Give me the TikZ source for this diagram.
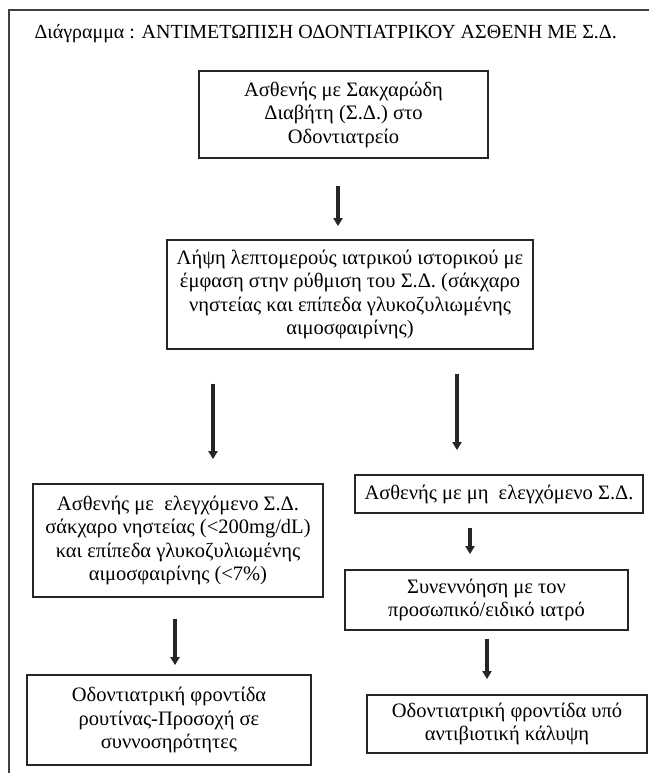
\documentclass[tikz,border=0pt]{standalone}
\usepackage{fontspec}
\setmainfont{Liberation Serif}
\usetikzlibrary{arrows.meta}

\tikzset{
  stepbox/.style={draw=black!85, line width=1.8pt, align=center, inner sep=0pt,
    font=\fontsize{20.5}{23.5}\selectfont},
  flowarrow/.style={draw=black!85, line width=3.2pt, -{Triangle[width=9pt,length=8pt]}},
}

\begin{document}
\begin{tikzpicture}[x=1pt, y=-1pt]
	\useasboundingbox (0,0) rectangle (649,773);
	% frame and title
	\draw[line width=1.8pt, black!75] (649,10) -- (9,10) -- (9,773);
	\node[anchor=west, font=\fontsize{20}{23}\selectfont] (title) at (31,34) {Διάγραμμα : ΑΝΤΙΜΕΤΩΠΙΣΗ ΟΔΟΝΤΙΑΤΡΙΚΟΥ ΑΣΘΕΝΗ ΜΕ Σ.Δ.};
	% boxes
	\node[stepbox, minimum width=289pt, minimum height=87pt] (patient) at (343.5,114.5) {Ασθενής με Σακχαρώδη\\Διαβήτη (Σ.Δ.) στο\\Οδοντιατρείο};
	\node[stepbox, minimum width=366pt, minimum height=109pt] (history) at (350,294.5) {Λήψη λεπτομερούς ιατρικού ιστορικού με\\έμφαση στην ρύθμιση του Σ.Δ. (σάκχαρο\\νηστείας και επίπεδα γλυκοζυλιωμένης\\αιμοσφαιρίνης)};
	\node[stepbox, minimum width=290pt, minimum height=113pt] (controlled) at (178,540.5) {Ασθενής με \ ελεγχόμενο Σ.Δ.\\σάκχαρο νηστείας (<200mg/dL)\\και επίπεδα γλυκοζυλιωμένης\\αιμοσφαιρίνης (<7\%)};
	\node[stepbox, minimum width=284pt, minimum height=90pt] (routine) at (169,720) {Οδοντιατρική φροντίδα\\ρουτίνας-Προσοχή σε\\συννοσηρότητες};
	\node[stepbox, minimum width=288pt, minimum height=38pt] (uncontrolled) at (499,494) {Ασθενής με μη \ ελεγχόμενο Σ.Δ.};
	\node[stepbox, minimum width=283pt, minimum height=60pt] (consult) at (486.5,600) {Συνεννόηση με τον\\προσωπικό/ειδικό ιατρό};
	\node[stepbox, minimum width=280pt, minimum height=58pt] (antibiotic) at (507,724) {Οδοντιατρική φροντίδα υπό\\αντιβιοτική κάλυψη};
	% arrows
	\draw[flowarrow, shorten <=27pt, shorten >=13pt] ([xshift=-5.5pt]patient.south) -- ([xshift=-5.5pt]patient.south |- history.north);
	\draw[flowarrow, shorten <=34pt, shorten >=24pt] ([xshift=-137pt]history.south) -- ([xshift=-137pt]history.south |- controlled.north);
	\draw[flowarrow, shorten <=24pt, shorten >=24pt] ([xshift=107pt]history.south) -- ([xshift=107pt]history.south |- uncontrolled.north);
	\draw[flowarrow, shorten <=21pt, shorten >=9pt] ([xshift=-3pt]controlled.south) -- ([xshift=-3pt]controlled.south |- routine.north);
	\draw[flowarrow, shorten <=14pt, shorten >=15pt] ([xshift=-29pt]uncontrolled.south) -- ([xshift=-29pt]uncontrolled.south |- consult.north);
	\draw[flowarrow, shorten <=8pt, shorten >=15pt] ([xshift=0.5pt]consult.south) -- ([xshift=0.5pt]consult.south |- antibiotic.north);
\end{tikzpicture}
\end{document}
